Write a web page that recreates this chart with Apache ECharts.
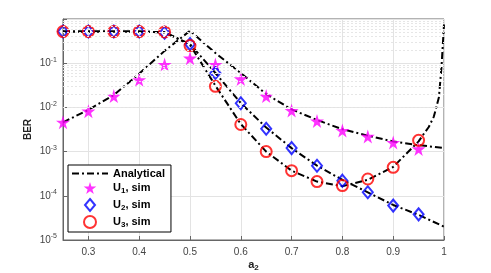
<!DOCTYPE html>
<html>
<head>
<meta charset="utf-8">
<script src="https://cdn.jsdelivr.net/npm/echarts@6/dist/echarts.min.js"></script>
<style>
html,body{margin:0;padding:0;background:#fff;}
#chart{width:491px;height:273px;}
</style>
</head>
<body>
<div id="chart"></div>
<script>
// ---- data ----
const simX = [0.25,0.30,0.35,0.40,0.45,0.50,0.55,0.60,0.65,0.70,0.75,0.80,0.85,0.90,0.95];
const u1Sim = [0.0046,0.0082,0.018,0.042,0.093,0.13,0.093,0.044,0.018,0.0085,0.0049,0.003,0.0022,0.0016,0.00115];
const u2Sim = [0.52,0.52,0.52,0.52,0.49,0.27,0.06,0.0124,0.0033,0.0012,0.00048,0.00022,0.00012,0.00006,0.000038];
const u3Sim = [0.52,0.52,0.52,0.52,0.51,0.25,0.03,0.0041,0.001,0.00037,0.00021,0.00017,0.00024,0.00044,0.0018];

const anX = [0.25,0.30,0.35,0.40,0.45,0.50,0.55,0.60,0.65,0.70,0.75,0.80,0.85,0.90,0.95,1.00];
const an1 = [0.0046,0.0088,0.019,0.058,0.19,0.54,0.17,0.06,0.02,0.009,0.0052,0.0032,0.0023,0.0017,0.0014,0.0012];
const an2 = [0.52,0.52,0.52,0.52,0.5,0.27,0.06,0.0125,0.0035,0.0012,0.00048,0.00023,0.00012,0.000062,0.000037,0.00002];
const an3X = [0.25,0.30,0.35,0.40,0.45,0.50,0.55,0.60,0.65,0.70,0.75,0.80,0.85,0.90,0.95,0.96,0.97,0.98,0.99,0.995,1.00];
const an3 = [0.52,0.52,0.52,0.52,0.5,0.26,0.031,0.0042,0.001,0.00037,0.00021,0.000165,0.00023,0.00045,0.0017,0.0025,0.0036,0.0062,0.017,0.08,0.75];

const xTicks = [0.3,0.4,0.5,0.6,0.7,0.8,0.9,1.0];
const legendNames = ['Analytical','U1, sim','U2, sim','U3, sim'];

// ---- helpers ----
const pair = (xs, ys) => xs.map((x, i) => [x, ys[i]]);
const minorY = [];
for (let e = -5; e < 0; e++) for (let k = 2; k <= 9; k++) minorY.push({ yAxis: k * Math.pow(10, e) });

const FONT = 'Liberation Sans';
const dashDot = [7, 3, 2, 3];
const starPath = 'path://M50,0 L61,35 L98,35 L68,57 L79,91 L50,70 L21,91 L32,57 L2,35 L39,35 Z';
const diamondPath = 'path://M5,0 L10,6 L5,12 L0,6 Z';

const chart = echarts.init(document.getElementById('chart'), null, { renderer: 'canvas' });
const anLine = (data) => ({
  name: 'Analytical', type: 'line', data, symbol: 'none', z: 3,
  lineStyle: { color: '#000', width: 2, type: dashDot },
  itemStyle: { color: '#000' }
});

chart.setOption({
  animation: false,
  backgroundColor: '#fff',
  textStyle: { fontFamily: FONT },
  grid: {
    left: 63, right: 47, top: 19, bottom: 33, outerBoundsMode: 'none', containLabel: false,
    show: true, borderColor: '#666', borderWidth: 1, backgroundColor: 'transparent'
  },
  legend: {
    data: [
      { name: legendNames[0], itemStyle: { opacity: 0 } },
      { name: legendNames[1] },
      { name: legendNames[2], icon: diamondPath },
      { name: legendNames[3] }
    ],
    orient: 'vertical', left: 68, top: 165,
    backgroundColor: '#fff', borderColor: '#000', borderWidth: 1,
    padding: [3, 6, 3, 3], itemGap: 3, itemWidth: 36, itemHeight: 12,
    textStyle: {
      fontFamily: FONT, fontWeight: 'bold', fontSize: 11, color: '#000',
      rich: {
        b: { fontFamily: FONT, fontWeight: 'bold', fontSize: 11, color: '#000' },
        s: { fontFamily: FONT, fontWeight: 'bold', fontSize: 8, color: '#000', verticalAlign: 'bottom', padding: [6, 0, 0, 0] }
      }
    },
    formatter: (n) => {
      const m = n.match(/^U(\d), sim$/);
      if (m) return '{b|U}{s|' + m[1] + '}{b|, sim}';
      return '{b|' + n + '}';
    }
  },
  xAxis: {
    type: 'value', min: 0.25, max: 1.0,
    axisLabel: {
      customValues: xTicks, color: '#444', fontSize: 10, fontFamily: FONT, margin: 7,
      formatter: (v) => String(Math.round(v * 10) / 10)
    },
    axisTick: { customValues: xTicks, inside: true, length: 4, lineStyle: { color: '#666' } },
    axisLine: { lineStyle: { color: '#666' } },
    splitLine: { show: true, lineStyle: { color: '#e3e3e3', width: 1 } },
    name: '{a|a}{s|2}', nameLocation: 'middle', nameGap: 18, nameMoveOverlap: false,
    nameTextStyle: {
      rich: {
        a: { fontFamily: FONT, fontWeight: 'bold', fontSize: 11, color: '#222' },
        s: { fontFamily: FONT, fontWeight: 'bold', fontSize: 8, color: '#222', verticalAlign: 'bottom', padding: [6, 0, 0, 0] }
      }
    }
  },
  yAxis: {
    type: 'log', logBase: 10, min: 1e-5, max: 1,
    axisLabel: {
      color: '#444', fontSize: 10, fontFamily: FONT, margin: 6,
      formatter: (v) => {
        const e = Math.round(Math.log10(v));
        if (e === 0) return '';
        return '{b|10}{e|' + e + '}';
      },
      rich: {
        b: { fontFamily: FONT, fontSize: 10, color: '#444' },
        e: { fontFamily: FONT, fontSize: 7, color: '#444', verticalAlign: 'top', padding: [0, 0, 7, 0] }
      }
    },
    axisTick: { inside: true, length: 4, lineStyle: { color: '#666' } },
    axisLine: { show: true, lineStyle: { color: '#666' } },
    splitLine: { show: true, lineStyle: { color: '#e3e3e3', width: 1 } },
    name: 'BER', nameLocation: 'middle', nameGap: 30, nameMoveOverlap: false,
    nameTextStyle: { fontFamily: FONT, fontWeight: 'bold', fontSize: 10, color: '#222' }
  },
  series: [
    {
      type: 'line', data: [], silent: true, z: 1,
      markLine: {
        silent: true, symbol: ['none', 'none'], label: { show: false },
        lineStyle: { color: '#e6e6e6', type: [2, 2], width: 1 },
        data: minorY, animation: false
      }
    },
    anLine(pair(anX, an1)),
    anLine(pair(anX, an2)),
    anLine(pair(an3X, an3)),
    {
      name: 'U1, sim', type: 'scatter', data: pair(simX, u1Sim), z: 4,
      symbol: starPath, symbolSize: 14,
      itemStyle: { color: '#ff00ff' }
    },
    {
      name: 'U2, sim', type: 'scatter', data: pair(simX, u2Sim), z: 4,
      symbol: 'diamond', symbolSize: [10, 12],
      itemStyle: { color: 'rgba(255,255,255,0)', borderColor: '#0000ff', borderWidth: 2 }
    },
    {
      name: 'U3, sim', type: 'scatter', data: pair(simX, u3Sim), z: 4,
      symbol: 'circle', symbolSize: 11,
      itemStyle: { color: 'rgba(255,255,255,0)', borderColor: '#ff0000', borderWidth: 2 }
    }
  ]
});
</script>
</body>
</html>
